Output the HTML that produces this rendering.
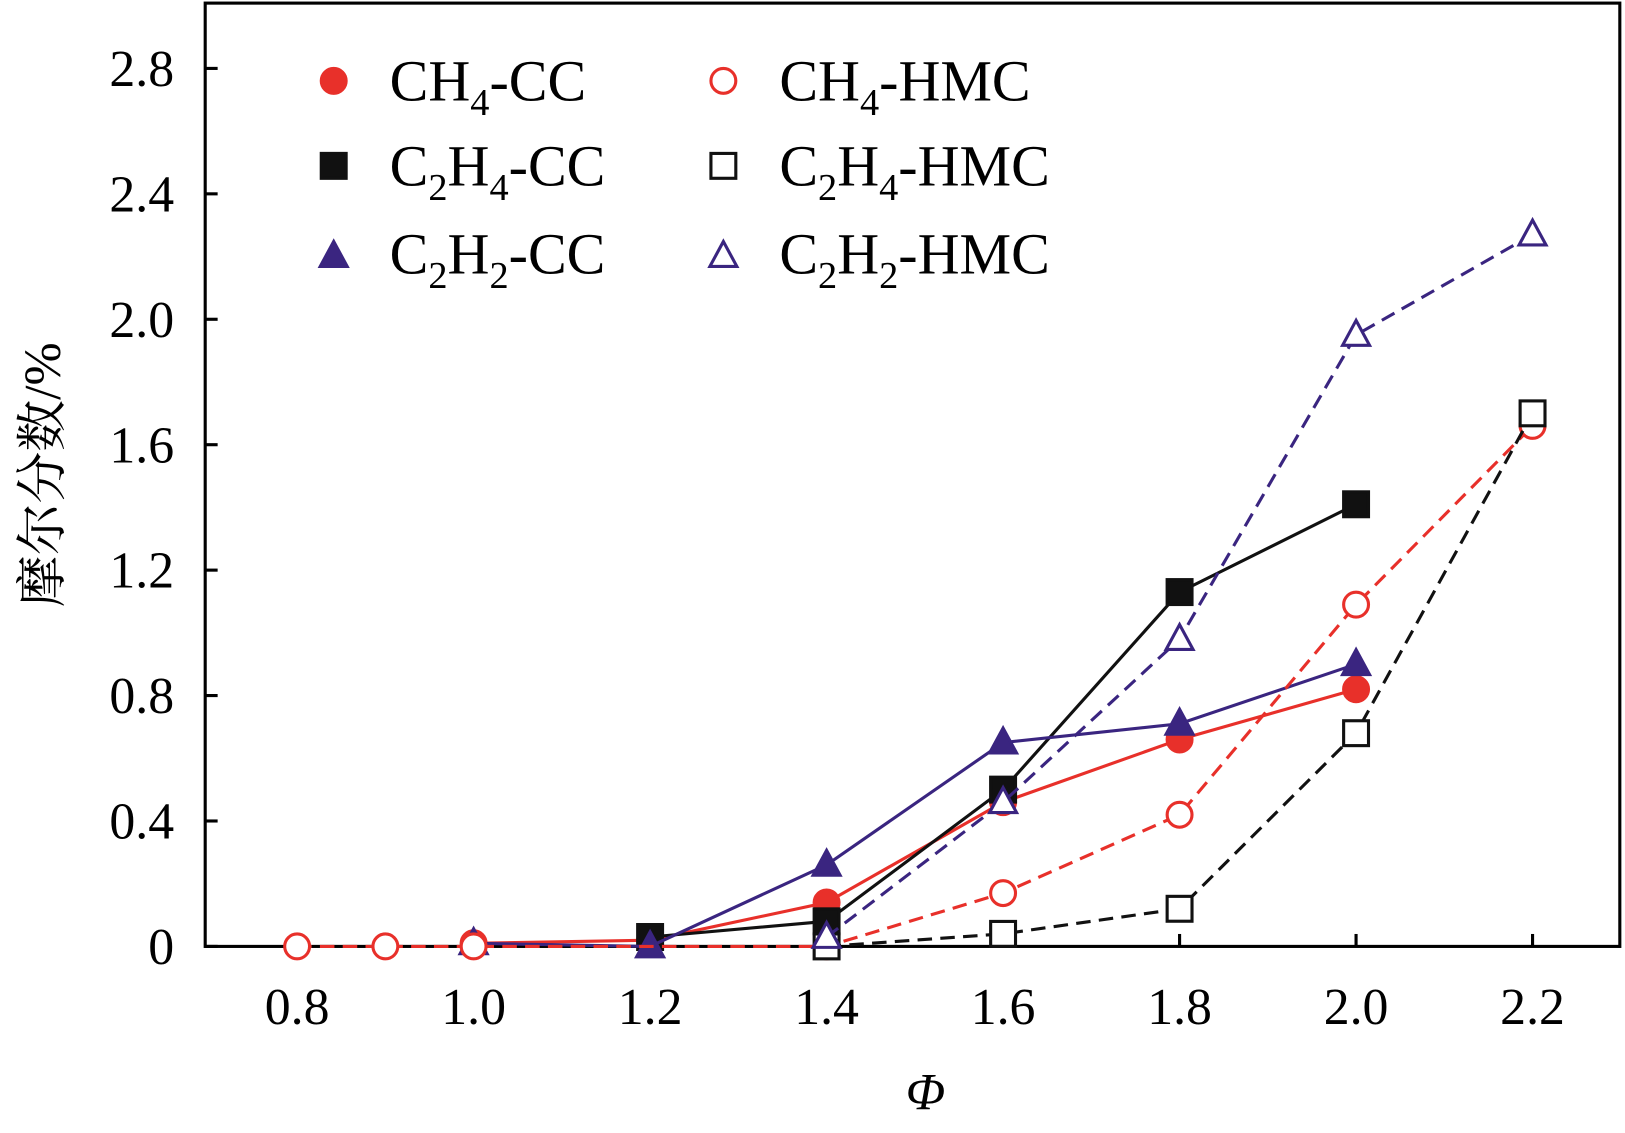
<!DOCTYPE html>
<html><head><meta charset="utf-8"><style>
body{margin:0;background:#fff}
svg{display:block;font-family:"Liberation Serif","Noto Serif CJK SC",serif}
</style></head><body>
<svg id="chart" width="1625" height="1133" viewBox="0 0 1568 1093" preserveAspectRatio="none" xmlns="http://www.w3.org/2000/svg">
<g id="plot"></g>
<text x="893" y="1070" font-size="50" font-style="italic" text-anchor="middle">Φ</text>
<text transform="translate(58,458) rotate(-90)" font-size="50" text-anchor="middle">摩尔分数/%</text>
</svg>
<script>
const xTicks=[0.8,1.0,1.2,1.4,1.6,1.8,2.0,2.2];
const xTickLabels=["0.8","1.0","1.2","1.4","1.6","1.8","2.0","2.2"];
const yTicks=[0,0.4,0.8,1.2,1.6,2.0,2.4,2.8];
const yTickLabels=["0","0.4","0.8","1.2","1.6","2.0","2.4","2.8"];
const seriesNames=["CH4-CC","C2H4-CC","C2H2-CC","CH4-HMC","C2H4-HMC","C2H2-HMC"];
const ch4ccX=[1.0,1.2,1.4,1.6,1.8,2.0];
const ch4ccY=[0.01,0.02,0.14,0.46,0.66,0.82];
const c2h4ccX=[1.2,1.4,1.6,1.8,2.0];
const c2h4ccY=[0.03,0.08,0.5,1.13,1.41];
const c2h2ccX=[1.0,1.2,1.4,1.6,1.8,2.0];
const c2h2ccY=[0.01,0.0,0.26,0.65,0.71,0.9];
const ch4hmcX=[0.8,0.9,1.0,1.4,1.6,1.8,2.0,2.2];
const ch4hmcY=[0,0,0,0.0,0.17,0.42,1.09,1.66];
const c2h4hmcX=[1.4,1.6,1.8,2.0,2.2];
const c2h4hmcY=[0.0,0.04,0.12,0.68,1.7];
const c2h2hmcX=[1.4,1.6,1.8,2.0,2.2];
const c2h2hmcY=[0.03,0.46,0.98,1.95,2.27];

const L=198,R=1563,T=3,B=913;
const sx=v=>457+(v-1.0)*851.5;
const sy=v=>B-v*302.5;
const NS="http://www.w3.org/2000/svg";
const g=document.getElementById('plot');
function mk(t,a,p){const e=document.createElementNS(NS,t);for(const k in a)e.setAttribute(k,a[k]);(p||g).appendChild(e);return e;}

const frame=mk('rect',{x:L,y:T,width:R-L,height:B-T,fill:'none',stroke:'#000','stroke-width':3});


xTicks.forEach((v,i)=>{
  const t=mk('line',{x1:sx(v),x2:sx(v),y1:B,y2:B-12,stroke:'#000','stroke-width':3});
  
  
  const l=mk('text',{x:sx(v),y:988,'font-size':50,'text-anchor':'middle'});
  l.textContent=xTickLabels[i];
  
  
});
yTicks.forEach((v,i)=>{
  const t=mk('line',{x1:L,x2:L+12,y1:sy(v),y2:sy(v),stroke:'#000','stroke-width':3});
  
  
  const l=mk('text',{x:168,y:sy(v)+17,'font-size':50,'text-anchor':'end'});
  l.textContent=yTickLabels[i];
  
  
});

const RED='#e8302a',BLK='#111',PUR='#3a2580';
const defs=[
 {x:ch4ccX,y:ch4ccY,c:RED,m:'circle',f:true,d:false},
 {x:c2h4ccX,y:c2h4ccY,c:BLK,m:'square',f:true,d:false},
 {x:c2h2ccX,y:c2h2ccY,c:PUR,m:'tri',f:true,d:false},
 {x:ch4hmcX,y:ch4hmcY,c:RED,m:'circle',f:false,d:true},
 {x:c2h4hmcX,y:c2h4hmcY,c:BLK,m:'square',f:false,d:true},
 {x:c2h2hmcX,y:c2h2hmcY,c:PUR,m:'tri',f:false,d:true}
];
function marker(m,cx,cy,c,f,parent){
  const fill=f?c:'#fff',sw=3;let e;
  if(m==='circle')e=mk('circle',{cx,cy,r:12,fill,stroke:c,'stroke-width':sw},parent);
  else if(m==='square')e=mk('rect',{x:cx-12,y:cy-12,width:24,height:24,fill,stroke:c,'stroke-width':sw},parent);
  else e=mk('polygon',{points:`${cx},${cy-14} ${cx-13},${cy+10} ${cx+13},${cy+10}`,fill,stroke:c,'stroke-width':sw},parent);
  return e;
}
defs.forEach((s,i)=>{
  const sg=mk('g',{});
  
  
  const pts=s.x.map((v,j)=>sx(v)+','+sy(s.y[j])).join(' ');
  const pl=mk('polyline',{points:pts,fill:'none',stroke:s.c,'stroke-width':3,'stroke-dasharray':s.d?'14 8':'none'},sg);
  
  
  s.x.forEach((v,j)=>{
    const mm=marker(s.m,sx(v),sy(s.y[j]),s.c,s.f,sg);
    
    
  });
});

const legPos=[[322,78],[322,160],[322,245],[698,78],[698,160],[698,245]];
const legHtml=['CH<tspan font-size="37" dy="14">4</tspan><tspan dy="-14">-CC</tspan>',
 'C<tspan font-size="37" dy="14">2</tspan><tspan dy="-14">H</tspan><tspan font-size="37" dy="14">4</tspan><tspan dy="-14">-CC</tspan>',
 'C<tspan font-size="37" dy="14">2</tspan><tspan dy="-14">H</tspan><tspan font-size="37" dy="14">2</tspan><tspan dy="-14">-CC</tspan>',
 'CH<tspan font-size="37" dy="14">4</tspan><tspan dy="-14">-HMC</tspan>',
 'C<tspan font-size="37" dy="14">2</tspan><tspan dy="-14">H</tspan><tspan font-size="37" dy="14">4</tspan><tspan dy="-14">-HMC</tspan>',
 'C<tspan font-size="37" dy="14">2</tspan><tspan dy="-14">H</tspan><tspan font-size="37" dy="14">2</tspan><tspan dy="-14">-HMC</tspan>'];
defs.forEach((s,i)=>{
  const lg=mk('g',{});
  
  
  const [x,y]=legPos[i];
  marker(s.m,x,y+(s.m==='tri'?2:0),s.c,s.f,lg);
  const t=mk('text',{x:x+54,y:y+19,'font-size':56},lg);
  t.innerHTML=legHtml[i];
});
</script>
</body></html>
